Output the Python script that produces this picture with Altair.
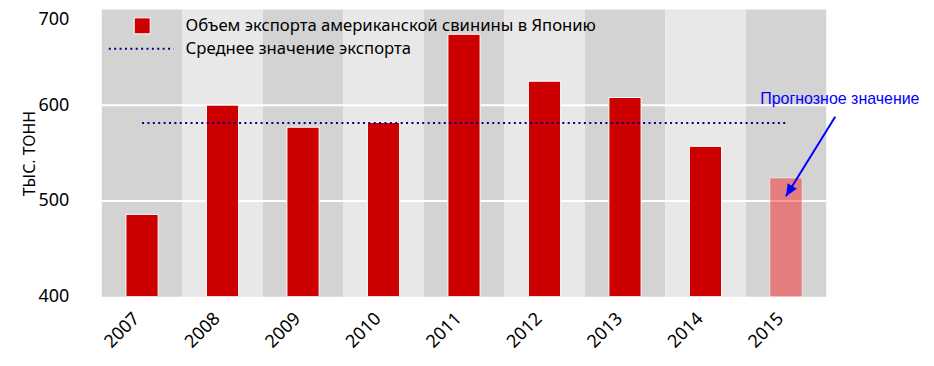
import altair as alt
import pandas as pd

years = [2007, 2008, 2009, 2010, 2011, 2012, 2013, 2014, 2015]
values = [486, 600, 577, 582, 674, 625, 608, 557, 524]
is_forecast = [False, False, False, False, False, False, False, False, True]
grid_values = [500, 600]
y_ticks = [400, 500, 600, 700]
series_name = "Объем экспорта американской свинины в Японию"
mean_name = "Среднее значение экспорта"
note_text = ["Прогнозное значение"]
note_year = [2015]
note_y = [606]
arrow_tip = [505]
arrow_tail = [588]

df = pd.DataFrame({"year": years, "value": values, "forecast": is_forecast,
                   "series": series_name, "avg": mean_name})
grid_df = pd.DataFrame({"g": grid_values})
note_df = pd.DataFrame({"year": note_year, "ny": note_y, "tip": arrow_tip,
                        "tail": arrow_tail, "text": note_text})

FONT = "Noto Sans"
x_enc = alt.X("year:O",
              scale=alt.Scale(paddingInner=0, paddingOuter=0),
              axis=alt.Axis(title=None, labelAngle=-45, labelFontSize=18, ticks=False,
                            domain=False, grid=False, labelColor="#000", labelPadding=19,
                            labelAlign="right", labelBaseline="middle", labelOffset=-5,
                            labelFont=FONT))
y_scale = alt.Scale(domain=[400, 700], nice=False, zero=False)
y_axis = alt.Axis(values=y_ticks, title="ТЫС. ТОНН", titleFontSize=16, titleFontWeight="normal",
                  titleX=-72, titleY=144, titleAngle=270, titleAlign="center",
                  titleBaseline="middle", titleColor="#000", titleFont=FONT,
                  labelFontSize=18, labelPadding=33, labelColor="#000", labelFont=FONT,
                  labelBaseline=alt.condition("datum.value == 700", alt.value("top"), alt.value("middle")),
                  labelOffset=alt.condition("datum.value == 700", alt.value(1), alt.value(0)),
                  ticks=False, domain=False, grid=False)

def Y(field):
    return alt.Y(field, scale=y_scale, axis=y_axis)

base = alt.Chart(df)

bg = base.mark_rect().encode(
    x=x_enc,
    y=alt.YDatum(700, type="quantitative", scale=y_scale, axis=y_axis),
    y2=alt.Y2Datum(400),
    fill=alt.condition("datum.year % 2 == 1", alt.value("#d3d3d3"), alt.value("#e8e8e8")),
)

grid = alt.Chart(grid_df).mark_rule(color="white", strokeWidth=2).encode(y=Y("g:Q"))

bars = base.transform_filter("!datum.forecast").mark_bar(
    width=alt.RelativeBandSize(0.4), stroke="white", strokeWidth=1
).encode(
    x=x_enc, y=Y("value:Q"), y2=alt.Y2Datum(400),
    color=alt.Color("series:N", scale=alt.Scale(range=["#cc0000"]),
                    legend=alt.Legend(title=None, orient="none", legendX=32, legendY=8,
                                      symbolType="square", symbolSize=256,
                                      symbolStrokeColor="white", symbolStrokeWidth=1,
                                      symbolOpacity=1,
                                      labelFontSize=16.7, labelFont=FONT, labelColor="#000",
                                      labelOffset=35, labelLimit=800, padding=0)),
)

fcst = base.transform_filter("datum.forecast").mark_bar(
    width=alt.RelativeBandSize(0.4), fill="#ff0000", fillOpacity=0.4,
    stroke="white", strokeOpacity=0.5, strokeWidth=1
).encode(x=x_enc, y=Y("value:Q"), y2=alt.Y2Datum(400))

line = base.transform_joinaggregate(m="mean(value)").mark_line(
    strokeWidth=2, strokeDash=[2, 3.4]
).encode(
    x=x_enc, y=Y("m:Q"),
    stroke=alt.Stroke("avg:N", scale=alt.Scale(range=["#000080"]),
                      legend=alt.Legend(title=None, orient="none", legendX=6, legendY=6,
                                        symbolType="stroke", symbolSize=4225,
                                        symbolStrokeWidth=2, symbolDash=[2, 3.4],
                                        labelFontSize=16.7, labelFont=FONT, labelColor="#000",
                                        labelOffset=11, labelLimit=800, padding=0)),
)

note = alt.Chart(note_df).mark_text(
    color="#0000ff", font="Liberation Sans", fontSize=16, dx=54,
    align="center", baseline="middle"
).encode(x=x_enc, y=Y("ny:Q"), text="text:N")

arrow = alt.Chart(note_df).mark_rule(color="#0000ff", strokeWidth=2).encode(
    x=x_enc, y=Y("tip:Q"), x2=alt.value(735), y2="tail:Q")

head = alt.Chart(note_df).mark_point(
    shape="M0,0 L-0.45,-1 L0.45,-1 Z", filled=True, color="#0000ff", size=576,
    angle=31.7, opacity=1
).encode(x=x_enc, y=Y("tip:Q"))

chart = alt.layer(bg, grid, bars, fcst, line, arrow, head, note).properties(
    width=726, height=288,
    autosize=alt.AutoSizeParams(type="none"),
    padding={"left": 94, "top": 1, "right": 100, "bottom": 58},
).configure(font=FONT).configure_view(stroke=None)

chart.save("out.html", embed_options={"renderer": "svg", "actions": False})
